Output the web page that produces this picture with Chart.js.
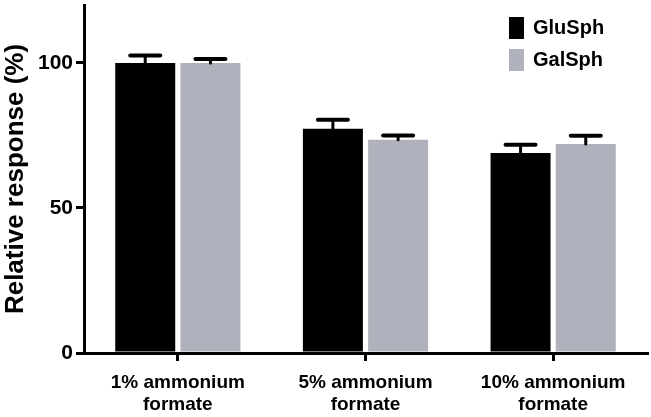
<!DOCTYPE html>
<html>
<head>
<meta charset="utf-8">
<script src="https://cdn.jsdelivr.net/npm/chart.js@4.4.1/dist/chart.umd.min.js"></script>
<style>
  html, body { margin: 0; padding: 0; background: #fff; }
  #wrap { width: 651px; height: 417px; position: relative; }
</style>
</head>
<body>
<div id="wrap"><canvas id="c" width="651" height="417"></canvas></div>
<script>
const categories = [['1% ammonium', 'formate'], ['5% ammonium', 'formate'], ['10% ammonium', 'formate']];
const seriesNames = ['GluSph', 'GalSph'];
const gluSph = [100, 77.3, 69.0];
const gluSphErr = [2.6, 3.1, 2.8];
const galSph = [100, 73.5, 72.1];
const galSphErr = [1.4, 1.5, 2.8];
const yTicks = [0, 50, 100];

const FONT = '"Liberation Sans", Arial, Helvetica, sans-serif';
const colors = ['#000000', '#afb2bc'];
const errs = [gluSphErr, galSphErr];

const errorBarPlugin = {
  id: 'errorBars',
  afterDatasetsDraw(chart) {
    const ctx = chart.ctx;
    const y = chart.scales.y;
    ctx.save();
    ctx.strokeStyle = '#000';
    ctx.lineCap = 'round';
    chart.data.datasets.forEach((ds, di) => {
      const meta = chart.getDatasetMeta(di);
      meta.data.forEach((bar, i) => {
        const top = y.getPixelForValue(ds.data[i] + errs[di][i]);
        ctx.lineWidth = 3;
        ctx.beginPath();
        ctx.moveTo(bar.x, bar.y);
        ctx.lineTo(bar.x, top);
        ctx.stroke();
        ctx.lineWidth = 4;
        ctx.beginPath();
        ctx.moveTo(bar.x - 15, top);
        ctx.lineTo(bar.x + 15, top);
        ctx.stroke();
      });
    });
    ctx.restore();
  }
};

const legendPlugin = {
  id: 'customLegend',
  afterDraw(chart) {
    const ctx = chart.ctx;
    ctx.save();
    chart.data.datasets.forEach((ds, di) => {
      const by = 17 + di * 32;
      ctx.fillStyle = ds.backgroundColor;
      ctx.fillRect(509, by, 15, 22);
      ctx.fillStyle = '#000';
      ctx.font = 'bold 20px ' + FONT;
      ctx.textBaseline = 'middle';
      ctx.textAlign = 'left';
      ctx.fillText(ds.label, 533, by + 11.5);
    });
    ctx.restore();
  }
};

new Chart(document.getElementById('c'), {
  type: 'bar',
  data: {
    labels: categories,
    datasets: [
      { label: seriesNames[0], data: gluSph, backgroundColor: colors[0], borderWidth: 0,
        barPercentage: 0.92, categoryPercentage: 0.695 },
      { label: seriesNames[1], data: galSph, backgroundColor: colors[1], borderWidth: 0,
        barPercentage: 0.92, categoryPercentage: 0.695 }
    ]
  },
  options: {
    responsive: false,
    animation: false,
    layout: { padding: { top: 5, right: 4, left: 0, bottom: 0 } },
    plugins: { legend: { display: false }, tooltip: { enabled: false } },
    scales: {
      x: {
        z: 1,
        afterFit(scale) { scale.height = 64; scale.paddingLeft = 0; scale.paddingRight = 0; },
        grid: { display: true, drawOnChartArea: false, drawTicks: true, tickLength: 8, color: '#000', lineWidth: 3, offset: false },
        border: { display: true, color: '#000', width: 3 },
        ticks: { color: '#000', font: { family: FONT, size: 19, weight: 'bold', lineHeight: 1.2 }, padding: 10, maxRotation: 0, autoSkip: false }
      },
      y: {
        min: 0,
        max: 120,
        afterFit(scale) { scale.width = 84; scale.paddingTop = 0; scale.paddingBottom = 0; },
        afterBuildTicks(scale) { scale.ticks = yTicks.map(v => ({ value: v })); },
        grid: { display: true, drawOnChartArea: false, drawTicks: true, tickLength: 8, color: '#000', lineWidth: 3 },
        border: { display: true, color: '#000', width: 3 },
        ticks: { color: '#000', font: { family: FONT, size: 21, weight: 'bold' }, padding: 3 },
        title: { display: true, text: 'Relative response (%)', color: '#000', font: { family: FONT, size: 26, weight: 'bold', lineHeight: 1.15 }, padding: { top: 1, bottom: 0 } }
      }
    }
  },
  plugins: [errorBarPlugin, legendPlugin]
});
</script>
</body>
</html>
